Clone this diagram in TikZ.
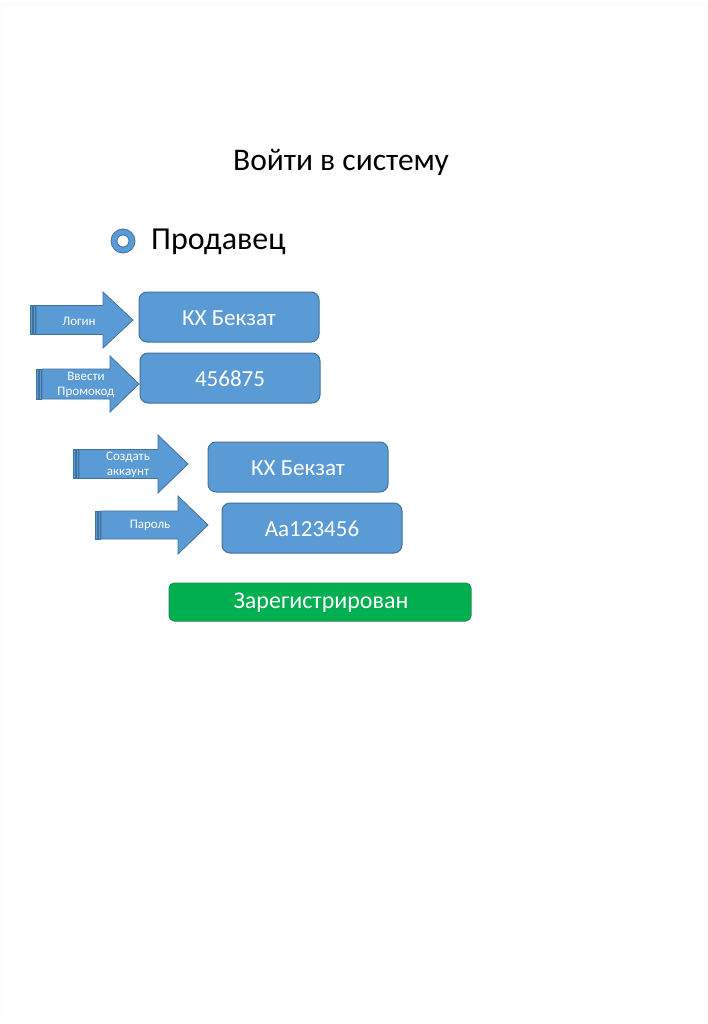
\documentclass[tikz,border=0pt]{standalone}
\usepackage{fontspec}
\setmainfont{Carlito}
\definecolor{boxblue}{HTML}{5B9BD5}
\definecolor{boxedge}{HTML}{41719C}
\definecolor{okgreen}{HTML}{00B050}
\definecolor{okedge}{HTML}{2A8A55}
\tikzset{
  bluebox/.style={draw=boxedge, fill=boxblue, line width=1pt, rounded corners=8pt},
  greenbox/.style={draw=okedge, fill=okgreen, line width=1pt, rounded corners=5pt},
  arrowpart/.style={draw=boxedge, fill=boxblue, line width=0.8pt},
  boxtext/.style={text=white, font=\fontsize{23}{27}\selectfont, inner sep=0pt},
  arrowtext/.style={text=white, font=\fontsize{13}{15}\selectfont, align=center, inner sep=0pt},
}
% #1 left x, #2 body start, #3 head x, #4 tip x, #5 center y, #6 half body, #7 half head
\newcommand\stripedarrow[7]{%
  \path[arrowpart] (#1,#5-#6) rectangle (#1+2,#5+#6);
  \path[arrowpart] (#1+3,#5-#6) rectangle (#1+5,#5+#6);
  \path[arrowpart] (#2,#5-#6) -- (#3,#5-#6) -- (#3,#5-#7) -- (#4,#5) -- (#3,#5+#7) -- (#3,#5+#6) -- (#2,#5+#6) -- cycle;
}
\begin{document}
\begin{tikzpicture}[x=1pt,y=-1pt]
\useasboundingbox[fill=white] (0,0) rectangle (708,1024);
\draw[black!2, line width=0.5pt] (1,4) rectangle (706,1022);

\node[anchor=base, inner sep=0pt, font=\fontsize{31.5}{38}\selectfont] (title) at (341,171) {Войти в систему};

\path[draw=boxedge, fill=boxblue, line width=0.8pt, even odd rule] (123,241) circle (12) (123,241) circle (6);
\node[anchor=base west, inner sep=0pt, font=\fontsize{32}{38}\selectfont] (seller) at (151,249) {Продавец};

% arrows
\stripedarrow{30}{36}{103}{133}{320}{14.5}{28}
\node[arrowtext] (a1) at (79,321) {Логин};
\stripedarrow{36}{42}{110}{139}{384}{15}{28}
\node[arrowtext] (a2) at (86,385) {Ввести\\Промокод};
\stripedarrow{73}{79}{158}{188}{464}{14.5}{29}
\node[arrowtext] (a3) at (128,465) {Создать\\аккаунт};
\stripedarrow{95}{101}{178}{208}{525}{14}{29}
\node[arrowtext] (a4) at (150,525) {Пароль};

% boxes
\path[bluebox] (139,292) rectangle (319,342);
\node[boxtext] (b1) at (229,318) {КХ Бекзат};
\path[bluebox] (140,353) rectangle (320,403);
\node[boxtext] (b2) at (230,379) {456875};
\path[bluebox] (208,442) rectangle (388,492);
\node[boxtext] (b3) at (298,468) {КХ Бекзат};
\path[bluebox] (222,503) rectangle (402,553);
\node[boxtext] (b4) at (312,529) {Aa123456};

\path[greenbox] (169,583) rectangle (471,621);
\node[boxtext, font=\fontsize{24}{28}\selectfont] (g) at (321,603) {Зарегистрирован};
\end{tikzpicture}
\end{document}
